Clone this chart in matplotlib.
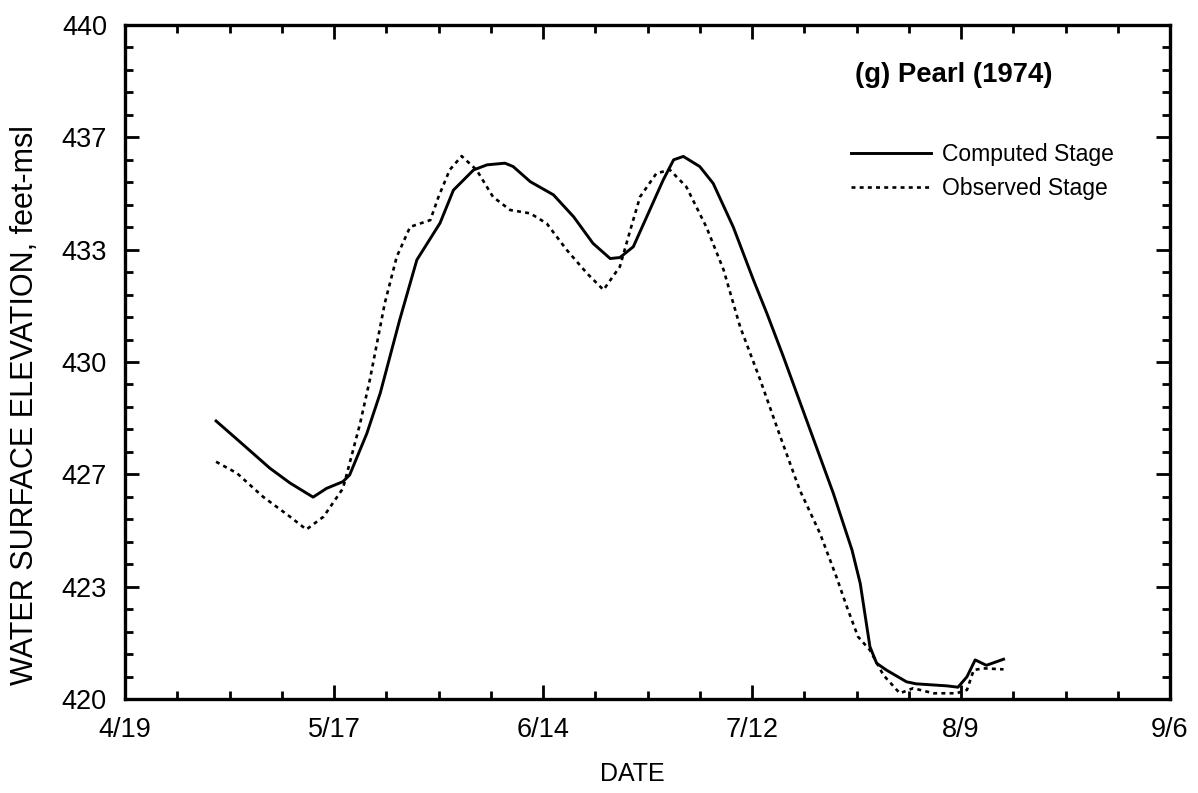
import matplotlib
matplotlib.use("Agg")
import matplotlib.pyplot as plt
from matplotlib.ticker import MultipleLocator, FixedLocator

plt.rcParams['font.family'] = ['Liberation Sans', 'DejaVu Sans']

# Days since 4/19 (1974)
computed_day = [12.2, 15.4, 19.4, 22.1, 25.2, 27.0, 29.2, 30.1, 32.4, 34.2, 36.8, 39.1,
                42.2, 44.0, 46.7, 48.5, 50.9, 52.0, 54.3, 57.4, 60.1, 62.7, 65.0, 66.3,
                68.1, 69.9, 72.1, 73.5, 74.8, 77.0, 78.8, 81.5, 84.2, 86.0, 88.2, 91.3,
                94.9, 97.4, 98.5, 99.8, 100.7, 102.0, 104.7, 106.0, 110.1, 111.6, 112.8,
                113.9, 115.4, 117.7]
computed_stage = [428.25, 427.63, 426.85, 426.41, 425.99, 426.25, 426.45, 426.65, 427.88,
                  429.08, 431.25, 433.03, 434.12, 435.1, 435.7, 435.85, 435.9, 435.8,
                  435.35, 434.96, 434.31, 433.52, 433.07, 433.1, 433.42, 434.31, 435.4,
                  436.0, 436.1, 435.8, 435.3, 434.0, 432.43, 431.44, 430.16, 428.28,
                  426.1, 424.42, 423.43, 421.55, 421.06, 420.86, 420.51, 420.45, 420.39,
                  420.35, 420.66, 421.16, 421.0, 421.18]

observed_day = [12.2, 15.0, 18.5, 22.1, 24.3, 26.6, 29.2, 30.1, 31.5, 32.8, 34.8, 36.4,
                38.2, 40.9, 42.0, 43.5, 45.1, 47.1, 49.3, 51.6, 54.3, 56.5, 59.2, 61.9,
                64.1, 66.3, 67.7, 69.0, 71.2, 73.0, 75.2, 77.9, 80.2, 82.4, 85.1, 87.8,
                90.4, 93.1, 95.3, 96.7, 98.2, 99.8, 101.6, 103.8, 105.6, 108.3, 111.4,
                112.8, 113.7, 115.0, 117.7]
observed_stage = [427.04, 426.7, 426.0, 425.41, 425.03, 425.41, 426.25, 427.0, 428.18,
                  429.47, 431.74, 433.12, 434.01, 434.21, 434.9, 435.7, 436.11, 435.7,
                  434.9, 434.51, 434.41, 434.11, 433.32, 432.63, 432.14, 432.83, 433.92,
                  434.9, 435.6, 435.7, 435.2, 434.0, 432.73, 431.05, 429.47, 427.78,
                  426.2, 424.92, 423.63, 422.74, 421.85, 421.45, 420.71, 420.17, 420.32,
                  420.17, 420.17, 420.27, 420.86, 420.91, 420.88]

x_tick_days = [0, 28, 56, 84, 112, 140]
x_tick_labels = ["4/19", "5/17", "6/14", "7/12", "8/9", "9/6"]
y_tick_values = [420, 420 + 10/3, 420 + 20/3, 430, 430 + 10/3, 430 + 20/3, 440]
y_tick_labels = ["420", "423", "427", "430", "433", "437", "440"]

fig = plt.figure(figsize=(11.98, 7.93), dpi=100)
ax = fig.add_axes([125/1198, 94/793, 1045/1198, 674/793])

ax.plot(computed_day, computed_stage, color='black', lw=2.1, label='Computed Stage')
ax.plot(observed_day, observed_stage, color='black', lw=1.9, linestyle=(0, (1.5, 1.6)),
        label='Observed Stage')

ax.set_xlim(0, 140)
ax.set_ylim(420, 440)
ax.xaxis.set_major_locator(FixedLocator(x_tick_days))
ax.set_xticklabels(x_tick_labels)
ax.xaxis.set_minor_locator(MultipleLocator(7))
ax.yaxis.set_major_locator(FixedLocator(y_tick_values))
ax.set_yticklabels(y_tick_labels)
ax.yaxis.set_minor_locator(MultipleLocator(2/3))

ax.tick_params(which='both', direction='in', top=True, right=True, width=2.0,
               labelsize=19.5)
ax.tick_params(axis='y', pad=13)
ax.tick_params(axis='x', pad=13)
ax.tick_params(which='major', length=10)
ax.tick_params(which='minor', length=5.5)
for s in ax.spines.values():
    s.set_linewidth(2.4)

ax.set_xlabel('DATE', fontsize=18)
ax.xaxis.set_label_coords((632 - 125) / 1045, -0.094)
ax.set_ylabel('WATER SURFACE ELEVATION, feet-msl', fontsize=22)
ax.yaxis.set_label_coords(-0.081, (699 - 405) / 674)

ax.text(0.6986, 0.926, '(g) Pearl (1974)', transform=ax.transAxes, fontsize=19.8,
        fontweight='bold', va='center', ha='left')

leg = ax.legend(loc='upper left', bbox_to_anchor=(0.695, 0.825), frameon=False,
                fontsize=16.5, handlelength=3.5, handletextpad=0.45, borderpad=0,
                borderaxespad=0, labelspacing=0.5)

fig.savefig('out.png', dpi=100)
